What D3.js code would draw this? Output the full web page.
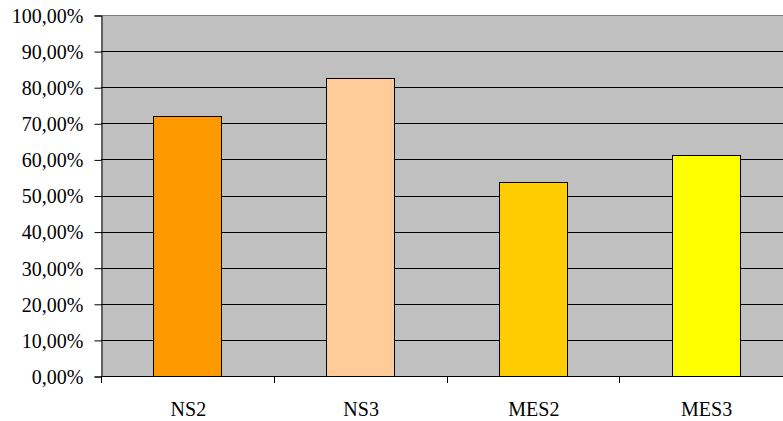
<!DOCTYPE html>
<html>
<head>
<meta charset="utf-8">
<script src="https://cdn.jsdelivr.net/npm/d3@7"></script>
<style>
  html, body { margin: 0; padding: 0; background: #fff; }
  svg { display: block; }
</style>
</head>
<body>
<svg id="chart" width="783" height="421" font-family="Liberation Serif" font-size="20"></svg>
<script>
// Share of each group, in percent
const categories = ["NS2", "NS3", "MES2", "MES3"];
const values = [72.1, 82.5, 53.7, 61.3];
const barColors = ["#FF9900", "#FFCC99", "#FFCC00", "#FFFF00"];
const yTicks = [0, 10, 20, 30, 40, 50, 60, 70, 80, 90, 100];

const svg = d3.select("#chart");
const plotLeft = 101, plotRight = 792, plotTop = 15, plotBottom = 376;
const FONT = "Liberation Serif";

const x = d3.scaleBand().domain(categories).range([plotLeft, plotRight]).padding(0);
const y = d3.scaleLinear().domain([0, 100]).range([plotBottom, plotTop]);
const barW = x.bandwidth() * 0.394;

const fmt = v => d3.format(".2f")(v).replace(".", ",") + "%";

// Plot background
svg.append("rect")
  .attr("x", plotLeft).attr("y", plotTop)
  .attr("width", plotRight - plotLeft).attr("height", plotBottom - plotTop)
  .attr("fill", "#C0C0C0");

// Horizontal gridlines
svg.append("g").selectAll("line")
  .data(yTicks.filter(d => d > 0))
  .join("line")
  .attr("x1", plotLeft).attr("x2", plotRight)
  .attr("y1", d => Math.round(y(d)) + 0.5)
  .attr("y2", d => Math.round(y(d)) + 0.5)
  .attr("stroke", d => d === 100 ? "#808080" : "#000").attr("stroke-width", 1);

// Bars
svg.append("g").selectAll("rect")
  .data(categories)
  .join("rect")
  .attr("x", (d) => Math.round(x(d) + x.bandwidth() / 2 - barW / 2) + 0.5)
  .attr("y", (d, i) => Math.round(y(values[i])) + 0.5)
  .attr("width", Math.round(barW))
  .attr("height", (d, i) => Math.round(y(0)) - Math.round(y(values[i])))
  .attr("fill", (d, i) => barColors[i])
  .attr("stroke", "#000").attr("stroke-width", 1);

// Y axis
const yAxis = d3.axisLeft(y).tickValues(yTicks).tickFormat(fmt).tickSizeOuter(0).tickSize(7).tickPadding(11);
const gy = svg.append("g").attr("transform", `translate(${plotLeft + 0.5},0.5)`).call(yAxis)
  .attr("font-family", FONT).attr("font-size", 20);
gy.selectAll("text").attr("fill", "#000").attr("dy", "0.34em");
gy.select(".domain").attr("stroke", "#000");

// X axis: ticks at category boundaries
const gx = svg.append("g").attr("font-family", FONT).attr("font-size", 20);
gx.append("line")
  .attr("x1", plotLeft).attr("x2", plotRight)
  .attr("y1", plotBottom + 0.5).attr("y2", plotBottom + 0.5)
  .attr("stroke", "#000");
const boundaries = categories.map(c => x(c)).concat([plotRight]);
gx.selectAll("line.tick")
  .data(boundaries)
  .join("line")
  .attr("class", "tick")
  .attr("x1", d => Math.round(d) + 0.5).attr("x2", d => Math.round(d) + 0.5)
  .attr("y1", plotBottom).attr("y2", plotBottom + 7)
  .attr("stroke", "#000");
gx.selectAll("text")
  .data(categories)
  .join("text")
  .attr("x", d => x(d) + x.bandwidth() / 2 + 1)
  .attr("y", 416)
  .attr("text-anchor", "middle")
  .attr("fill", "#000")
  .text(d => d);
</script>
</body>
</html>
